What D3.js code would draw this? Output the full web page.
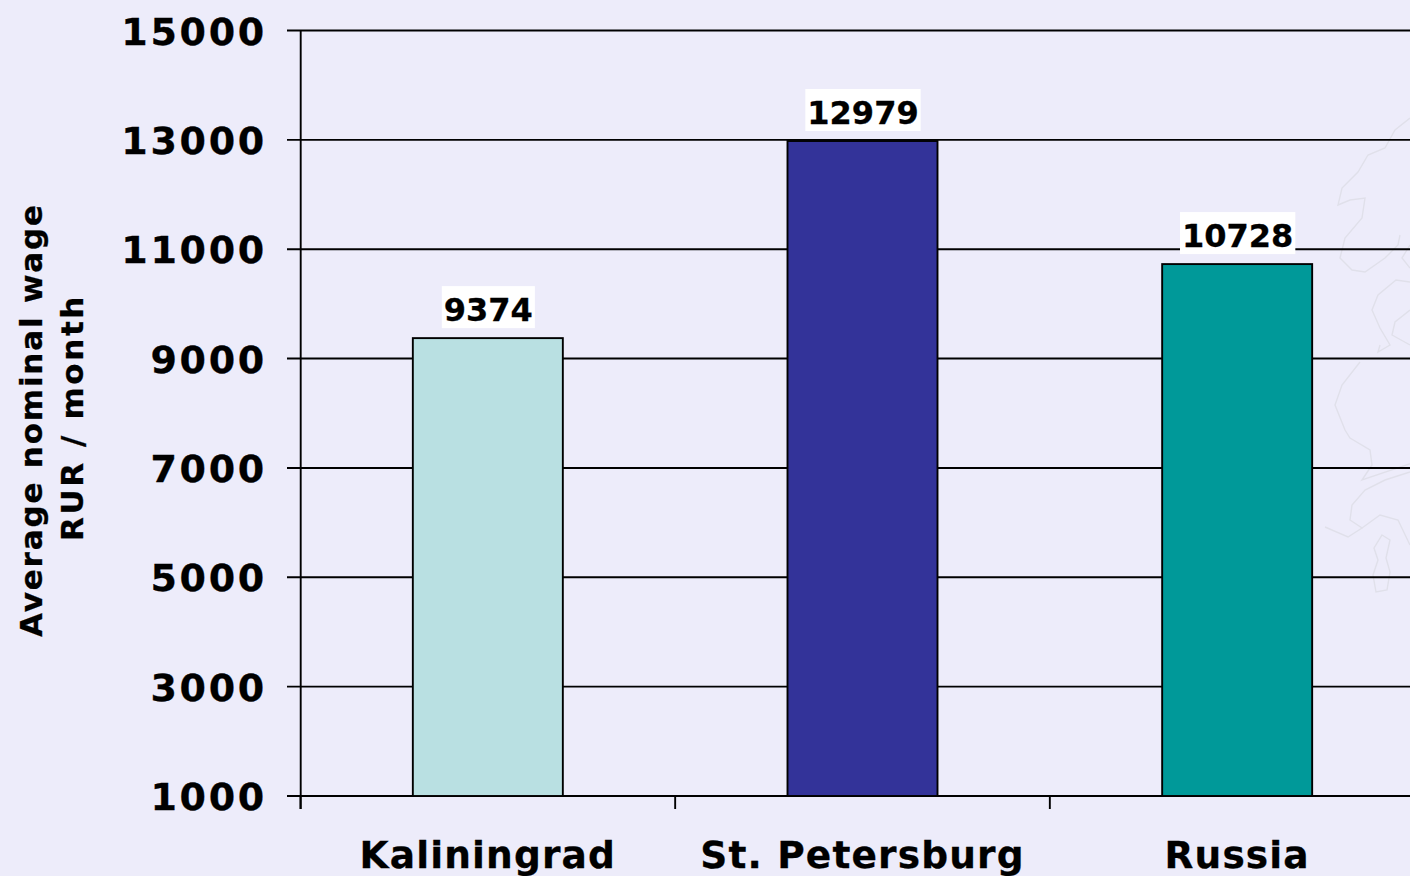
<!DOCTYPE html>
<html><head><meta charset="utf-8"><script src="https://cdn.jsdelivr.net/npm/d3@7"></script>
<style>html,body{margin:0;padding:0;background:#edecfa;overflow:hidden}svg{display:block}text{font-family:"DejaVu Sans",Verdana,sans-serif;font-weight:700;fill:#000;stroke:#000;stroke-width:.3px}</style></head>
<body><svg id="c" width="1410" height="876"></svg>
<script>
const categories=["Kaliningrad","St. Petersburg","Russia"];
const wages=[9374,12979,10728];
const barColors=["#b9e0e2","#333399","#009999"];
const tickValues=[1000,3000,5000,7000,9000,11000,13000,15000];
const xTickPositions=[0,1,2];
const svg=d3.select("#c");
// faint map watermark behind the chart
const mapOutlines=[
 "M1410,118 L1395,130 L1385,148 L1368,155 L1358,172 L1342,188 L1338,205 L1350,200 L1365,198 L1362,218 L1345,238 L1340,258 L1352,270 L1365,272 L1385,258 L1398,245 L1400,235",
 "M1410,245 L1402,258 L1410,268",
 "M1410,282 L1396,280 L1378,295 L1372,310 L1380,328 L1390,345 L1378,352 L1380,345",
 "M1410,310 L1395,322 L1392,335 L1410,345",
 "M1360,362 L1342,385 L1335,405 L1345,430 L1350,438 L1370,450 L1372,465 L1362,480 L1415,462",
 "M1410,472 L1385,480 L1365,490 L1352,505 L1350,520 L1362,528 L1348,537 L1325,527",
 "M1362,528 L1380,515 L1398,520 L1410,545",
 "M1382,535 L1390,540 L1386,558 L1390,572 L1387,590 L1376,592 L1373,575 L1378,560 L1374,548 Z"
];
svg.append("g").attr("fill","none").attr("stroke","#e0e0ea").attr("stroke-width",1.4)
 .selectAll("path").data(mapOutlines).join("path").attr("d",d=>d);
const y=d3.scaleLinear().domain([1000,15000]).range([796,30.5]);
const band=d3.scaleBand().domain(categories).range([300.5,1424.5]);
const xTick=d3.scaleLinear().domain([0,3]).range([300.5,1424.5]);
const barW=150, sw=1.9;
const g=svg.append("g");
g.selectAll("line.grid").data(tickValues).join("line").attr("class","grid")
 .attr("x1",287).attr("x2",1410).attr("y1",d=>y(d)).attr("y2",d=>y(d)).attr("stroke","#000").attr("stroke-width",d=>d===15000?2.2:sw);
g.append("line").attr("x1",300.7).attr("x2",300.7).attr("y1",30).attr("y2",809).attr("stroke","#000").attr("stroke-width",sw);
g.selectAll("line.xt").data(xTickPositions).join("line").attr("class","xt").attr("x1",xTick).attr("x2",xTick).attr("y1",796).attr("y2",809).attr("stroke","#000").attr("stroke-width",sw);
g.selectAll("text.yl").data(tickValues).join("text").attr("class","yl").attr("x",267).attr("y",d=>y(d)+14).attr("text-anchor","end").attr("font-size",38).attr("letter-spacing",2.7).text(d=>d);
const cx=d=>band(d)+band.bandwidth()/2;
g.selectAll("rect.bar").data(categories).join("rect").attr("class","bar")
 .attr("x",d=>cx(d)-barW/2).attr("width",barW).attr("y",(d,i)=>y(wages[i])).attr("height",(d,i)=>y(1000)-y(wages[i]))
 .attr("fill",(d,i)=>barColors[i]).attr("stroke","#000").attr("stroke-width",sw);
categories.forEach((c,i)=>{
 const t=g.append("text").attr("x",cx(c)+.5).attr("y",y(wages[i])-17).attr("text-anchor","middle").attr("font-size",32).text(wages[i]);
 const b=t.node().getBBox();
 g.append("rect").attr("x",b.x-2).attr("y",y(wages[i])-52).attr("width",b.width+4).attr("height",42).attr("fill","#fff");
 t.raise();
});
g.selectAll("text.xl").data(categories).join("text").attr("class","xl").attr("x",cx).attr("y",868).attr("text-anchor","middle").attr("font-size",37.5).attr("letter-spacing",1.15).text(d=>d);
g.append("text").attr("transform","translate(42,420) rotate(-90)").attr("text-anchor","middle").attr("font-size",31).attr("letter-spacing",1.8).text("Average nominal wage");
g.append("text").attr("transform","translate(83,417.5) rotate(-90)").attr("text-anchor","middle").attr("font-size",31).attr("letter-spacing",2.6).text("RUR / month");
</script></body></html>
